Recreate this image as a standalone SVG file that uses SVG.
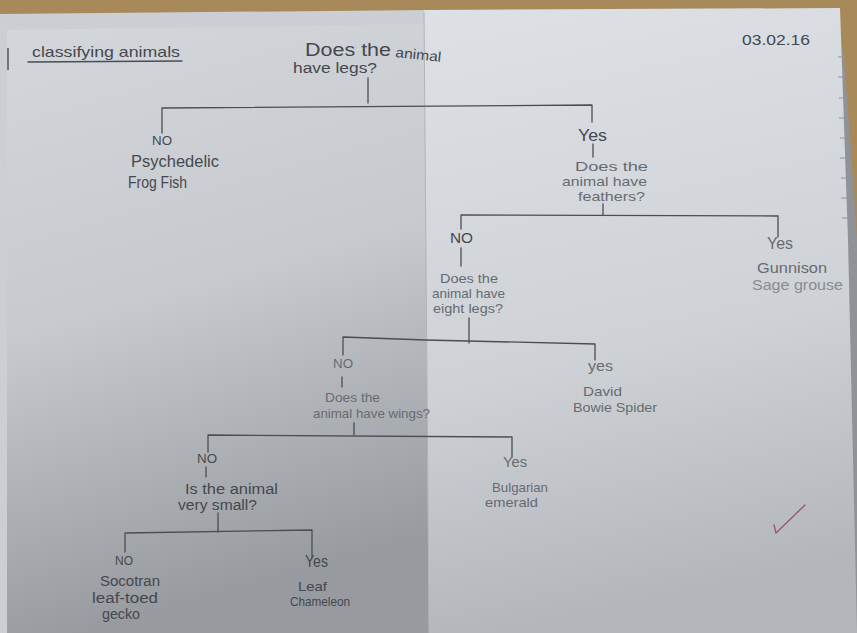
<svg xmlns="http://www.w3.org/2000/svg" width="857" height="633" viewBox="0 0 857 633">
<defs>
<linearGradient id="leftPage" x1="0" y1="0" x2="0.2" y2="1">
<stop offset="0" stop-color="#d3d7dc"/>
<stop offset="0.5" stop-color="#c6cacf"/>
<stop offset="1" stop-color="#979a9e"/>
</linearGradient>
<linearGradient id="rightPage" x1="0" y1="0" x2="0.15" y2="1">
<stop offset="0" stop-color="#dde1e6"/>
<stop offset="0.6" stop-color="#ced2d6"/>
<stop offset="1" stop-color="#b3b6ba"/>
</linearGradient>
<style>
.w{stroke:#4a4d52;stroke-width:1.3;fill:none;stroke-linecap:round;stroke-linejoin:round}
.t{font-family:"Liberation Sans","DejaVu Sans",sans-serif;fill:#45484d}
.l{fill:#676b71}
.vl{fill:#888c92}
.s12{font-size:12px}.s13{font-size:13px}.s14{font-size:14px}.s15{font-size:15px}.s16{font-size:16px}.s17{font-size:17px}
</style>
</defs>

<!-- background: table, pages -->
<rect x="0" y="0" width="857" height="633" fill="#8f9296"/>
<rect x="0" y="0" width="857" height="20" fill="#a8895a"/>
<polygon points="835,0 857,0 857,240 851,150 844,60" fill="#a8895a"/>
<polygon points="0,14 430,10 430,633 0,633" fill="#cbcfd3"/>
<polygon points="7,30 426,24 429,633 7,633" fill="url(#leftPage)"/>
<polygon points="424,10 840,8 848,240 857,633 429,633" fill="url(#rightPage)"/>
<line x1="424" y1="12" x2="429" y2="633" stroke="#b0b4b9" stroke-width="1"/>
<line x1="8" y1="48" x2="8" y2="70" stroke="#50545a" stroke-width="1.5"/>
<g stroke="#8e949b" stroke-width="1">
<line x1="838" y1="57" x2="846" y2="57"/><line x1="838" y1="77" x2="846" y2="77"/>
<line x1="839" y1="98" x2="847" y2="98"/><line x1="839" y1="118" x2="847" y2="118"/>
<line x1="840" y1="138" x2="848" y2="138"/><line x1="840" y1="158" x2="848" y2="158"/>
<line x1="841" y1="178" x2="849" y2="178"/><line x1="841" y1="198" x2="849" y2="198"/>
<line x1="842" y1="218" x2="850" y2="218"/>
</g>

<!-- heading and date -->
<g id="title">
<text class="t s15" x="32" y="57" textLength="148" lengthAdjust="spacingAndGlyphs">classifying animals</text>
<line class="w" x1="28" y1="62" x2="182" y2="61"/>
</g>
<g id="date">
<text class="t s14" x="742" y="45" textLength="68" lengthAdjust="spacingAndGlyphs">03.02.16</text>
</g>

<!-- connectors -->
<g id="connectors">
<polyline class="w" points="368,78 368,103"/>
<polyline class="w" points="162,133 162,108 592,105 592,122"/>
<polyline class="w" points="593,144 593,157"/>
<polyline class="w" points="603,204 603,215"/>
<polyline class="w" points="461,229 461,215 778,216 778,237"/>
<polyline class="w" points="461,248 461,266"/>
<polyline class="w" points="469,318 469,343"/>
<polyline class="w" points="343,355 343,337 425,340 595,344 595,360"/>
<polyline class="w" points="342,377 342,387"/>
<polyline class="w" points="354,423 354,435"/>
<polyline class="w" points="208,452 208,435 512,437 512,457"/>
<polyline class="w" points="206,467 206,477"/>
<polyline class="w" points="218,513 218,532"/>
<polyline class="w" points="125,552 125,533 312,530 312,557"/>
<g id="edge-labels">
<text class="t s13" x="152" y="145" textLength="20" lengthAdjust="spacingAndGlyphs">NO</text>
<text class="t s17" x="578" y="141" textLength="29" lengthAdjust="spacingAndGlyphs">Yes</text>
<text class="t s14" x="450" y="243" textLength="23" lengthAdjust="spacingAndGlyphs">NO</text>
<text class="t s16 l" x="767" y="249" textLength="26" lengthAdjust="spacingAndGlyphs">Yes</text>
<text class="t s13 l" x="333" y="368" textLength="20" lengthAdjust="spacingAndGlyphs">NO</text>
<text class="t s14 l" x="588" y="371" textLength="25" lengthAdjust="spacingAndGlyphs">yes</text>
<text class="t s12" x="197" y="463" textLength="20" lengthAdjust="spacingAndGlyphs">NO</text>
<text class="t s14 l" x="503" y="467" textLength="24" lengthAdjust="spacingAndGlyphs">Yes</text>
<text class="t s12" x="115" y="565" textLength="18" lengthAdjust="spacingAndGlyphs">NO</text>
<text class="t s16" x="305" y="567" textLength="23" lengthAdjust="spacingAndGlyphs">Yes</text>
</g>
</g>

<!-- nodes -->
<g id="q-legs">
<text class="t" font-size="18" x="305" y="56" textLength="86" lengthAdjust="spacingAndGlyphs">Does the</text>
<text class="t s14" x="395" y="57" textLength="46" lengthAdjust="spacingAndGlyphs" transform="rotate(6 395 57)">animal</text>
<text class="t s14" x="293" y="73" textLength="84" lengthAdjust="spacingAndGlyphs">have legs?</text>
</g>
<g id="a-frogfish">
<text class="t s16" x="131" y="167" textLength="88" lengthAdjust="spacingAndGlyphs">Psychedelic</text>
<text class="t s16" x="128" y="188" textLength="59" lengthAdjust="spacingAndGlyphs">Frog Fish</text>
</g>
<g id="q-feathers">
<text class="t s13 l" x="575" y="171" textLength="73" lengthAdjust="spacingAndGlyphs">Does the</text>
<text class="t s13 l" x="562" y="186" textLength="85" lengthAdjust="spacingAndGlyphs">animal have</text>
<text class="t s13 l" x="578" y="201" textLength="67" lengthAdjust="spacingAndGlyphs">feathers?</text>
</g>
<g id="a-grouse">
<text class="t s15 l" x="757" y="273" textLength="70" lengthAdjust="spacingAndGlyphs">Gunnison</text>
<text class="t s15 vl" x="752" y="290" textLength="91" lengthAdjust="spacingAndGlyphs">Sage grouse</text>
</g>
<g id="q-eightlegs">
<text class="t s13 l" x="440" y="283" textLength="58" lengthAdjust="spacingAndGlyphs">Does the</text>
<text class="t s13 l" x="432" y="298" textLength="73" lengthAdjust="spacingAndGlyphs">animal have</text>
<text class="t s13 l" x="433" y="313" textLength="70" lengthAdjust="spacingAndGlyphs">eight legs?</text>
</g>
<g id="a-spider">
<text class="t s13 l" x="583" y="396" textLength="39" lengthAdjust="spacingAndGlyphs">David</text>
<text class="t s13 l" x="573" y="412" textLength="84" lengthAdjust="spacingAndGlyphs">Bowie Spider</text>
</g>
<g id="q-wings">
<text class="t s13 l" x="325" y="402" textLength="55" lengthAdjust="spacingAndGlyphs">Does the</text>
<text class="t s13 l" x="313" y="418" textLength="117" lengthAdjust="spacingAndGlyphs">animal have wings?</text>
</g>
<g id="a-emerald">
<text class="t s13 l" x="492" y="492" textLength="56" lengthAdjust="spacingAndGlyphs">Bulgarian</text>
<text class="t s13 l" x="485" y="507" textLength="53" lengthAdjust="spacingAndGlyphs">emerald</text>
</g>
<g id="q-small">
<text class="t s14" x="185" y="494" textLength="93" lengthAdjust="spacingAndGlyphs">Is the animal</text>
<text class="t s14" x="178" y="510" textLength="79" lengthAdjust="spacingAndGlyphs">very small?</text>
</g>
<g id="a-gecko">
<text class="t s14" x="100" y="586" textLength="60" lengthAdjust="spacingAndGlyphs">Socotran</text>
<text class="t s14" x="92" y="603" textLength="66" lengthAdjust="spacingAndGlyphs">leaf-toed</text>
<text class="t s14" x="102" y="619" textLength="38" lengthAdjust="spacingAndGlyphs">gecko</text>
</g>
<g id="a-chameleon">
<text class="t s13" x="298" y="591" textLength="29" lengthAdjust="spacingAndGlyphs">Leaf</text>
<text class="t s13" x="290" y="606" textLength="60" lengthAdjust="spacingAndGlyphs">Chameleon</text>
</g>

<!-- teacher tick -->
<polyline points="774,525 776,533 805,505" fill="none" stroke="#9a5a68" stroke-width="1.4" stroke-linecap="round" stroke-linejoin="round"/>
</svg>
